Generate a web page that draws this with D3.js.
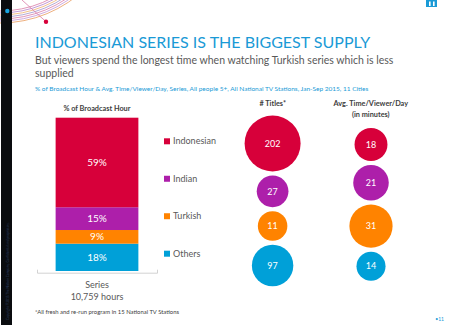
<!DOCTYPE html>
<html>
<head>
<meta charset="utf-8">
<script src="https://cdn.jsdelivr.net/npm/d3@7"></script>
<style>
  html, body { margin: 0; padding: 0; background: #fff; }
  svg { display: block; font-family: Lato, "Open Sans", sans-serif; }
</style>
</head>
<body>
<svg id="chart" width="450" height="325"></svg>
<script>
// Series supply vs. viewing, Jan-Sep 2015
const categories = ["Indonesian", "Indian", "Turkish", "Others"];
const broadcastShare = [59, 15, 9, 18];      // % of broadcast hour
const titleCounts = [202, 27, 11, 97];        // # titles
const avgMinutes = [18, 21, 31, 14];          // avg. time / viewer / day (min)
const seriesLabel = "Series";
const seriesHours = "10,759 hours";

const colors = ["#d7003a", "#ad1faa", "#ff8300", "#00a0d8"];
const blue = "#1a9ad6";
const grey = "#595959";

const svg = d3.select("#chart");

// ---- decorative frame ----
const deco = svg.append("g");
const arcColors = ["#d97aa6", "#b27fcb", "#eeb06e", "#9f93cc", "#d97aa6", "#c293d6", "#e99c5e"];
arcColors.forEach((c, i) => {
  const r = 111 + i * 2;
  deco.append("circle").attr("cx", 0).attr("cy", -100).attr("r", r)
    .attr("fill", "none").attr("stroke", c).attr("stroke-width", 0.8);
});
deco.append("line").attr("x1", 22).attr("y1", 0).attr("x2", 46).attr("y2", 21.7)
  .attr("stroke", "#d97aa6").attr("stroke-width", 0.8);
deco.append("circle").attr("cx", 46).attr("cy", 21.7).attr("r", 2.2).attr("fill", "#d7003a");
deco.append("rect").attr("x", 1).attr("y", 0).attr("width", 11).attr("height", 325).attr("fill", "#0a0c0f");
deco.append("circle").attr("cx", 7.3).attr("cy", 11).attr("r", 2.2).attr("fill", "#1aa3e0");
deco.append("text")
  .attr("transform", "translate(8.5,320) rotate(-90)")
  .attr("font-size", 3.2).attr("fill", "#2b3d63")
  .text("Copyright ©2015 The Nielsen Company. Confidential and proprietary.");
// logo mark
deco.append("rect").attr("x", 426).attr("y", 0).attr("width", 11).attr("height", 7).attr("fill", "#1a9ad6");
[429, 433].forEach(x => deco.append("rect").attr("x", x).attr("y", 1.5).attr("width", 1.6).attr("height", 4.5).attr("fill", "#fff"));
deco.append("text").attr("x", 444).attr("y", 321).attr("text-anchor", "end")
  .attr("font-size", 5).attr("fill", blue).text("•11");

// ---- headings ----
svg.append("text").attr("x", 35).attr("y", 47.7).attr("font-size", 16).attr("fill", blue)
  .text("INDONESIAN SERIES IS THE BIGGEST SUPPLY");
const sub = svg.append("text").attr("x", 35).attr("y", 64).attr("font-size", 10.5).attr("fill", grey);
sub.append("tspan").attr("x", 35).text("But viewers spend the longest time when watching Turkish series which is less");
sub.append("tspan").attr("x", 35).attr("dy", 12.7).text("supplied");
svg.append("text").attr("x", 35).attr("y", 90.7).attr("font-size", 6.5).attr("fill", blue)
  .text("% of Broadcast Hour & Avg. Time/Viewer/Day,  Series, All people 5+, All National TV Stations, Jan-Sep 2015, 11 Cities");

// ---- stacked bar: % of broadcast hour ----
const barX = d3.scaleBand().domain([seriesLabel]).range([37, 157]).paddingInner(0).paddingOuter(0.225);
const total = d3.sum(broadcastShare);
const barY = d3.scaleLinear().domain([0, total]).range([271, 117.7]);

// stack from the bottom: Others, Turkish, Indian, Indonesian
const order = [3, 2, 1, 0];
let acc = 0;
const segments = order.map(i => {
  const s = { i, y0: acc, y1: acc + broadcastShare[i] };
  acc += broadcastShare[i];
  return s;
});

svg.append("text").attr("x", barX(seriesLabel) + barX.bandwidth() / 2).attr("y", 110.7)
  .attr("text-anchor", "middle").attr("font-size", 7.3).attr("font-weight", "bold").attr("fill", "#404040")
  .text("% of Broadcast Hour");

const bar = svg.append("g");
bar.selectAll("rect").data(segments).join("rect")
  .attr("x", barX(seriesLabel))
  .attr("width", barX.bandwidth())
  .attr("y", d => barY(d.y1))
  .attr("height", d => barY(d.y0) - barY(d.y1))
  .attr("fill", d => colors[d.i]);
bar.selectAll("text").data(segments).join("text")
  .attr("x", barX(seriesLabel) + barX.bandwidth() / 2)
  .attr("y", d => (barY(d.y0) + barY(d.y1)) / 2)
  .attr("dy", "0.35em")
  .attr("text-anchor", "middle").attr("font-size", 10).attr("fill", "#fff")
  .text(d => broadcastShare[d.i] + "%");

const axis = svg.append("g").attr("transform", "translate(0,272.7)")
  .call(d3.axisBottom(barX).tickSizeInner(0).tickSizeOuter(-3).tickPadding(9));
axis.select(".domain").attr("stroke", "#c8c8c8").attr("stroke-width", 0.8);
axis.selectAll(".tick text").attr("font-size", 9).attr("fill", grey).attr("font-family", "Lato, 'Open Sans', sans-serif")
  .each(function () {
    const t = d3.select(this);
    t.append("tspan").attr("x", 0).attr("dy", 12).text(seriesHours);
  });

// ---- legend ----
const legendY = d3.scalePoint().domain(categories).range([141.3, 253.7]);
const legend = svg.append("g").selectAll("g").data(categories).join("g")
  .attr("transform", d => `translate(164,${legendY(d)})`);
legend.append("rect").attr("x", 0).attr("y", -3).attr("width", 6).attr("height", 6)
  .attr("fill", (d, i) => colors[i]);
legend.append("text").attr("x", 9).attr("y", 0).attr("dy", "0.35em")
  .attr("font-size", 9).attr("fill", grey).text(d => d);

// ---- bubble columns ----
const rTitles = d3.scaleLinear().domain([0, d3.max(titleCounts)]).range([14, 28]);
const rMinutes = d3.scaleSqrt().domain([0, d3.max(avgMinutes)]).range([0, 21.6]);

function bubbleColumn(values, rScale, cx, top, gap) {
  let y = top;
  const nodes = values.map((v, i) => {
    const r = rScale(v);
    const cy = i === 0 ? y : y + gap + r;
    y = cy + r;
    return { v, i, r, cy };
  });
  const g = svg.append("g");
  g.selectAll("circle").data(nodes).join("circle")
    .attr("cx", cx).attr("cy", d => d.cy).attr("r", d => d.r)
    .attr("fill", d => colors[d.i]);
  g.selectAll("text").data(nodes).join("text")
    .attr("x", cx).attr("y", d => d.cy).attr("dy", "0.35em")
    .attr("text-anchor", "middle").attr("font-size", 9).attr("fill", "#fff")
    .text(d => d.v);
}
bubbleColumn(titleCounts, rTitles, 272.6, 143.5, 4);
bubbleColumn(avgMinutes, rMinutes, 371, 144.5, 4);

svg.append("text").attr("x", 272.8).attr("y", 105.7).attr("text-anchor", "middle")
  .attr("font-size", 7.3).attr("font-weight", "bold").attr("fill", "#404040").text("# Titles*");
const hdr = svg.append("text").attr("x", 370.8).attr("y", 105.7).attr("text-anchor", "middle")
  .attr("font-size", 7.3).attr("font-weight", "bold").attr("fill", "#404040");
hdr.append("tspan").attr("x", 370.8).text("Avg. Time/Viewer/Day");
hdr.append("tspan").attr("x", 370.8).attr("dy", 11).text("(in minutes)");

// ---- footnote ----
svg.append("text").attr("x", 35).attr("y", 314.3).attr("font-size", 5.9).attr("fill", "#404040")
  .text("*All fresh and re-run program in 15 National TV Stations");
</script>
</body>
</html>
